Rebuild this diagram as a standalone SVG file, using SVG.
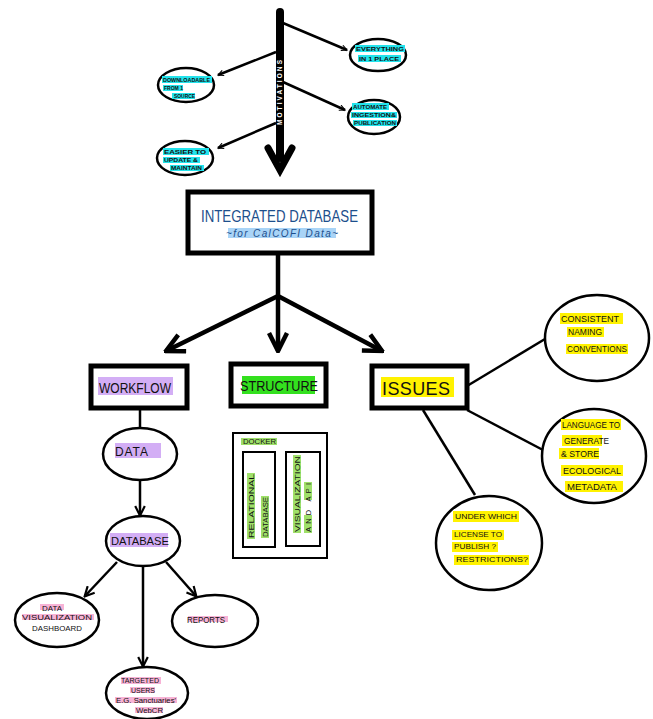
<svg xmlns="http://www.w3.org/2000/svg" width="653" height="719" viewBox="0 0 653 719">
<defs>
<style>
.bg{fill:#ffffff}
.ell{fill:#ffffff;stroke:#000;stroke-width:2.5}
.box{fill:#ffffff;stroke:#000;stroke-width:5}
.thin{fill:#ffffff;stroke:#000;stroke-width:2}
.ln{fill:none;stroke:#000;stroke-width:2.5}
.thick{fill:none;stroke:#000;stroke-width:4.5}
.t{font-family:"Liberation Sans",Arial,sans-serif;fill:#111}
.tiny{font-size:6px;font-weight:bold}
.sm{font-size:8px}
.md{font-size:9px}
.hl-c{fill:#22e3ec}
.hl-p{fill:#d3aef5}
.hl-g{fill:#33e01e}
.hl-lg{fill:#9fe06a}
.hl-y{fill:#fff200}
.hl-pk{fill:#f7b3d6}
.hl-b{fill:#a9d4f7}
</style>
<marker id="ah" viewBox="0 0 10 10" refX="9" refY="5" markerWidth="7" markerHeight="7" orient="auto" markerUnits="userSpaceOnUse">
<path d="M1,1 L9,5 L1,9" fill="none" stroke="#000" stroke-width="1.6"/>
</marker>
<marker id="ahb" viewBox="0 0 10 10" refX="9" refY="5" markerWidth="5" markerHeight="5" orient="auto">
<path d="M1,1 L9,5 L1,9" fill="none" stroke="#000" stroke-width="2"/>
</marker>
<marker id="ahw" viewBox="0 0 10 10" refX="8.5" refY="5" markerWidth="12" markerHeight="12" orient="auto" markerUnits="userSpaceOnUse">
<path d="M1,1 L9,5 L1,9" fill="none" stroke="#000" stroke-width="1.8"/>
</marker>
</defs>
<rect class="bg" x="0" y="0" width="653" height="719"/>

<g id="connectors">
<line class="ln" x1="283" y1="23" x2="347" y2="50" marker-end="url(#ah)"/>
<line class="ln" x1="276" y1="52" x2="218" y2="75" marker-end="url(#ah)"/>
<line class="ln" x1="283" y1="82" x2="345" y2="110" marker-end="url(#ah)"/>
<line class="ln" x1="276" y1="123" x2="218" y2="148" marker-end="url(#ah)"/>
<line class="thick" x1="278" y1="253" x2="278" y2="296"/>
<line class="thick" x1="278" y1="296" x2="166" y2="351" marker-end="url(#ahb)"/>
<line class="thick" x1="278" y1="296" x2="278" y2="351" marker-end="url(#ahb)"/>
<line class="thick" x1="278" y1="296" x2="382" y2="351" marker-end="url(#ahb)"/>
<line class="ln" x1="140" y1="408" x2="140" y2="428"/>
<line class="ln" x1="140" y1="480" x2="140" y2="515" marker-end="url(#ahw)"/>
<line class="ln" x1="117" y1="562" x2="85" y2="596" marker-end="url(#ahw)"/>
<line class="ln" x1="166" y1="562" x2="196" y2="596" marker-end="url(#ahw)"/>
<line class="ln" x1="143" y1="567" x2="143" y2="666" marker-end="url(#ahw)"/>
<line class="ln" x1="467" y1="386" x2="545" y2="339"/>
<line class="ln" x1="467" y1="410" x2="543" y2="450"/>
<line class="ln" x1="423" y1="410" x2="475" y2="495"/>
</g>

<g id="motivations-arrow">
<line x1="280" y1="12" x2="280" y2="158" stroke="#000" stroke-width="8" stroke-linecap="round"/>
<path d="M268,148 L280,170 L292,148" fill="none" stroke="#000" stroke-width="7" stroke-linejoin="miter" stroke-linecap="round"/>
<text class="t" x="0" y="0" transform="translate(282.2,125) rotate(-90)" font-size="6.5" font-weight="bold" style="fill:#fff" textLength="65" lengthAdjust="spacing">MOTIVATIONS</text>
</g>

<g id="m-everything">
<ellipse class="ell" cx="378" cy="55" rx="28" ry="16"/>
<rect class="hl-c" x="355" y="45" width="50" height="7"/>
<rect class="hl-c" x="358" y="55" width="43" height="7"/>
<text class="t tiny" x="356" y="51" textLength="48" lengthAdjust="spacingAndGlyphs">EVERYTHING</text>
<text class="t tiny" x="359" y="61" textLength="40" lengthAdjust="spacingAndGlyphs">IN 1 PLACE</text>
</g>

<g id="m-downloadable">
<ellipse class="ell" cx="186" cy="85" rx="28" ry="17"/>
<rect class="hl-c" x="162" y="76" width="50" height="7"/>
<rect class="hl-c" x="163" y="85" width="20" height="6"/>
<rect class="hl-c" x="172" y="93" width="23" height="6"/>
<text class="t tiny" x="163" y="82" textLength="47" lengthAdjust="spacingAndGlyphs">DOWNLOADABLE</text>
<text class="t tiny" x="164" y="90" textLength="19" lengthAdjust="spacingAndGlyphs">FROM 1</text>
<text class="t tiny" x="174" y="98" textLength="21" lengthAdjust="spacingAndGlyphs">SOURCE</text>
</g>

<g id="m-automate">
<ellipse class="ell" cx="374" cy="117" rx="26" ry="17"/>
<rect class="hl-c" x="352" y="103" width="37" height="7"/>
<rect class="hl-c" x="351" y="112" width="46" height="6"/>
<rect class="hl-c" x="353" y="120" width="44" height="6"/>
<text class="t tiny" x="353" y="109" textLength="34" lengthAdjust="spacingAndGlyphs">AUTOMATE</text>
<text class="t tiny" x="352" y="117" textLength="44" lengthAdjust="spacingAndGlyphs">INGESTION&amp;</text>
<text class="t tiny" x="354" y="125" textLength="42" lengthAdjust="spacingAndGlyphs">PUBLICATION</text>
</g>

<g id="m-easier">
<ellipse class="ell" cx="185" cy="158" rx="28" ry="17"/>
<rect class="hl-c" x="163" y="148" width="46" height="7"/>
<rect class="hl-c" x="163" y="157" width="37" height="6"/>
<rect class="hl-c" x="170" y="165" width="34" height="6"/>
<text class="t tiny" x="164" y="154" textLength="42" lengthAdjust="spacingAndGlyphs">EASIER TO</text>
<text class="t tiny" x="164" y="162" textLength="34" lengthAdjust="spacingAndGlyphs">UPDATE &amp;</text>
<text class="t tiny" x="171" y="170" textLength="31" lengthAdjust="spacingAndGlyphs">MAINTAIN</text>
</g>

<g id="integrated-database">
<rect class="box" x="188" y="192" width="184" height="61"/>
<rect class="hl-b" x="228" y="228" width="108" height="10"/>
<text class="t" x="201" y="222" font-size="17" style="fill:#1d4f8c" textLength="157" lengthAdjust="spacingAndGlyphs">INTEGRATED DATABASE</text>
<text class="t" x="226" y="237" font-size="10" font-style="italic" style="fill:#1d4f8c" textLength="112" lengthAdjust="spacing">~for CalCOFI Data~</text>
</g>

<g id="workflow">
<rect class="box" x="91" y="366" width="96" height="42"/>
<rect class="hl-p" x="98" y="377" width="75" height="18"/>
<text class="t" x="99" y="393" font-size="15" textLength="72" lengthAdjust="spacingAndGlyphs">WORKFLOW</text>
</g>

<g id="structure">
<rect class="box" x="231" y="364" width="95" height="42"/>
<rect class="hl-g" x="242" y="376" width="73" height="18"/>
<text class="t" x="240" y="391" font-size="14" textLength="78" lengthAdjust="spacingAndGlyphs">STRUCTURE</text>
</g>

<g id="issues">
<rect class="box" x="372" y="366" width="95" height="42"/>
<rect class="hl-y" x="381" y="377" width="73" height="20"/>
<text class="t" x="382" y="395" font-size="18" textLength="68" lengthAdjust="spacing">ISSUES</text>
</g>

<g id="data">
<ellipse class="ell" cx="140" cy="454" rx="37" ry="26"/>
<rect class="hl-p" x="115" y="443" width="46" height="15"/>
<text class="t" x="115" y="456" font-size="12" textLength="33" lengthAdjust="spacing">DATA</text>
</g>

<g id="database">
<ellipse class="ell" cx="143" cy="541" rx="37" ry="25"/>
<rect class="hl-p" x="110" y="533" width="58" height="14"/>
<text class="t" x="111" y="545" font-size="11" textLength="58" lengthAdjust="spacingAndGlyphs">DATABASE</text>
</g>

<g id="dashboard">
<ellipse class="ell" cx="57" cy="620" rx="42" ry="27"/>
<rect class="hl-pk" x="40" y="604" width="24" height="6"/>
<rect class="hl-pk" x="22" y="614" width="72" height="6"/>
<text class="t sm" x="42" y="611" textLength="20" lengthAdjust="spacingAndGlyphs">DATA</text>
<text class="t sm" x="22" y="620" textLength="70" lengthAdjust="spacingAndGlyphs">VISUALIZATION</text>
<text class="t sm" x="32" y="631" textLength="50" lengthAdjust="spacingAndGlyphs">DASHBOARD</text>
</g>

<g id="reports">
<ellipse class="ell" cx="215" cy="621" rx="43" ry="26"/>
<rect class="hl-pk" x="188" y="616" width="40" height="6"/>
<text class="t md" x="187" y="623" textLength="38" lengthAdjust="spacingAndGlyphs">REPORTS</text>
</g>

<g id="targeted-users">
<ellipse class="ell" cx="147" cy="693" rx="41" ry="26"/>
<rect class="hl-pk" x="121" y="677" width="40" height="7"/>
<rect class="hl-pk" x="130" y="687" width="25" height="6"/>
<rect class="hl-pk" x="115" y="697" width="62" height="6"/>
<rect class="hl-pk" x="135" y="707" width="28" height="6"/>
<text class="t sm" x="121" y="683" textLength="38" lengthAdjust="spacingAndGlyphs">TARGETED</text>
<text class="t sm" x="131" y="693" textLength="24" lengthAdjust="spacingAndGlyphs">USERS</text>
<text class="t" x="116" y="703" font-size="7.5" textLength="60" lengthAdjust="spacingAndGlyphs">E.G. Sanctuaries'</text>
<text class="t sm" x="136" y="713" textLength="27" lengthAdjust="spacingAndGlyphs">WebCR</text>
</g>

<g id="docker">
<rect class="thin" x="233" y="433" width="94" height="125"/>
<rect class="hl-lg" x="241" y="438" width="36" height="7"/>
<text class="t sm" x="243" y="444" textLength="33" lengthAdjust="spacingAndGlyphs">DOCKER</text>
</g>

<g id="relational-db">
<rect class="thin" x="243" y="452" width="32" height="95"/>
<rect class="hl-lg" x="247" y="473" width="8" height="66"/>
<rect class="hl-lg" x="261" y="496" width="8" height="42"/>
<text class="t" font-size="7.5" transform="translate(254,538) rotate(-90)" textLength="64" lengthAdjust="spacingAndGlyphs">RELATIONAL</text>
<text class="t" font-size="7.5" transform="translate(268,537) rotate(-90)" textLength="40" lengthAdjust="spacingAndGlyphs">DATABASE</text>
</g>

<g id="visualization-api">
<rect class="thin" x="286" y="452" width="34" height="94"/>
<rect class="hl-lg" x="293" y="455" width="8" height="78"/>
<rect class="hl-lg" x="304" y="482" width="8" height="18"/>
<rect class="hl-lg" x="304" y="515" width="8" height="18"/>
<text class="t" font-size="7.5" transform="translate(300,532) rotate(-90)" textLength="76" lengthAdjust="spacingAndGlyphs">VISUALIZATION</text>
<text class="t" font-size="7.5" transform="translate(311,532) rotate(-90)" textLength="49" lengthAdjust="spacing">AND API</text>
</g>

<g id="naming">
<ellipse class="ell" cx="597" cy="338" rx="52" ry="43"/>
<rect class="hl-y" x="560" y="313" width="63" height="11"/>
<rect class="hl-y" x="567" y="327" width="37" height="10"/>
<rect class="hl-y" x="566" y="344" width="62" height="10"/>
<text class="t md" x="561" y="322" textLength="58" lengthAdjust="spacingAndGlyphs">CONSISTENT</text>
<text class="t md" x="568" y="335" textLength="34" lengthAdjust="spacingAndGlyphs">NAMING</text>
<text class="t md" x="567" y="352" textLength="60" lengthAdjust="spacingAndGlyphs">CONVENTIONS</text>
</g>

<g id="metadata">
<ellipse class="ell" cx="594" cy="456" rx="52" ry="47"/>
<rect class="hl-y" x="561" y="419" width="60" height="11"/>
<rect class="hl-y" x="562" y="435" width="40" height="11"/>
<rect class="hl-y" x="559" y="448" width="40" height="11"/>
<rect class="hl-y" x="561" y="465" width="62" height="11"/>
<rect class="hl-y" x="565" y="481" width="58" height="11"/>
<text class="t md" x="562" y="428" textLength="58" lengthAdjust="spacingAndGlyphs">LANGUAGE TO</text>
<text class="t md" x="564" y="444" textLength="45" lengthAdjust="spacingAndGlyphs">GENERATE</text>
<text class="t md" x="561" y="457" textLength="38" lengthAdjust="spacingAndGlyphs">&amp; STORE</text>
<text class="t md" x="563" y="474" textLength="58" lengthAdjust="spacingAndGlyphs">ECOLOGICAL</text>
<text class="t md" x="567" y="490" textLength="50" lengthAdjust="spacingAndGlyphs">METADATA</text>
</g>

<g id="license">
<ellipse class="ell" cx="489" cy="543" rx="53" ry="47"/>
<rect class="hl-y" x="453" y="511" width="66" height="11"/>
<rect class="hl-y" x="452" y="530" width="52" height="10"/>
<rect class="hl-y" x="452" y="542" width="46" height="10"/>
<rect class="hl-y" x="454" y="555" width="75" height="10"/>
<text class="t sm" x="455" y="519" textLength="62" lengthAdjust="spacingAndGlyphs">UNDER WHICH</text>
<text class="t sm" x="454" y="537" textLength="48" lengthAdjust="spacingAndGlyphs">LICENSE TO</text>
<text class="t sm" x="454" y="549" textLength="42" lengthAdjust="spacingAndGlyphs">PUBLISH ?</text>
<text class="t sm" x="456" y="562" textLength="72" lengthAdjust="spacingAndGlyphs">RESTRICTIONS?</text>
</g>
</svg>
